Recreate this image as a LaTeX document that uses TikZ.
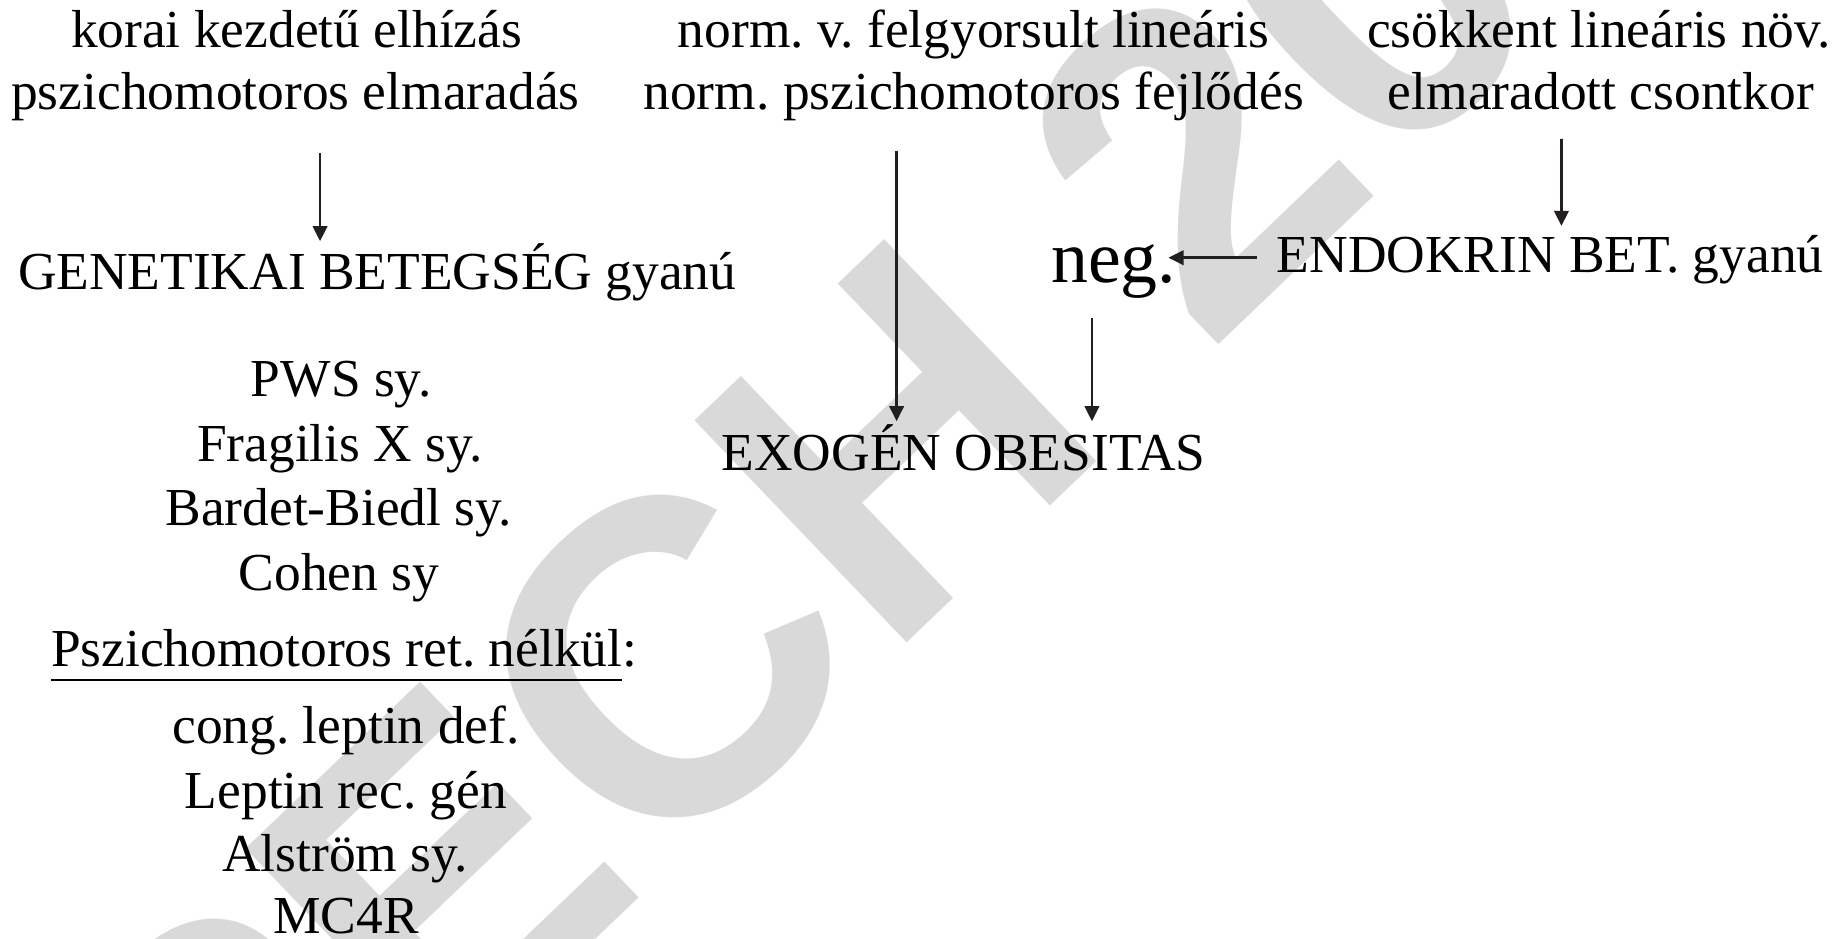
\documentclass[tikz,border=0pt]{standalone}
\usepackage{fontspec}
\setmainfont{Liberation Serif}
\newfontfamily\wmfont{Liberation Sans}
\usetikzlibrary{arrows.meta,calc}
\frenchspacing
\definecolor{ink}{HTML}{231F20}
\newcommand\myuline[1]{\setbox0\hbox{#1}\rlap{\rule[-4.4pt]{\wd0}{0.8pt}}\box0}
\begin{document}
\begin{tikzpicture}[x=0.011767cm,y=-0.011767cm,
  txt/.style={anchor=base, inner sep=0pt, font=\fontsize{15.2}{18}\selectfont\frenchspacing},
  big/.style={anchor=base, inner sep=0pt, font=\fontsize{21}{25}\selectfont},
  arr/.style={draw=ink, line width=0.75pt, -{Triangle[length=4.3pt,width=4.1pt]}},
  wm/.style={anchor=base west, inner sep=0pt, text=black!15, font=\wmfont\bfseries\fontsize{127}{130}\selectfont, rotate=43.7}]
\useasboundingbox (0,0) rectangle (1568,798);
\begin{scope}
\clip (0,0) rectangle (1568,798);
\node[wm] (wmark) at (188,1103) {PECH 20};
\end{scope}
% header
\node[txt] (k1) at (252,40) {korai kezdetű elhízás};
\node[txt] (k2) at (251,93) {pszichomotoros elmaradás};
\node[txt] (n1) at (827.5,40) {norm. v. felgyorsult lineáris};
\node[txt] (n2) at (827.5,93) {norm. pszichomotoros fejlődés};
\node[txt] (c1) at (1359,40) {csökkent lineáris növ.};
\node[txt] (c2) at (1360.5,93) {elmaradott csontkor};
% middle
\node[txt] (gen) at (320.5,246) {GENETIKAI BETEGSÉG gyanú};
\node[big] (neg) at (946.5,240) {neg.};
\node[txt] (endo) at (1317.5,232) {ENDOKRIN BET. gyanú};
\node[txt] (exo) at (819,400) {EXOGÉN OBESITAS};
% lists
\node[txt] (pws) at (290,337) {PWS sy.};
\node[txt] (frag) at (289,392) {Fragilis X sy.};
\node[txt] (bard) at (288,447) {Bardet-Biedl sy.};
\node[txt] (cohen) at (288,502) {Cohen sy};
\node[txt] (psz) at (292.5,566) {\myuline{Pszichomotoros ret. nélkül}:};
\node[txt] (cong) at (294,632) {cong. leptin def.};
\node[txt] (lep) at (294,687) {Leptin rec. gén};
\node[txt] (alst) at (293.5,741) {Alström sy.};
\node[txt] (mc4r) at (294,793) {MC4R};
% arrows
\draw[arr] ($(k2.base)+(21,37)$) -- ($(gen.base)+(-48.5,-41)$);
\draw[arr] ($(n2.base)+(-65.5,35)$) -- ($(exo.base)+(-57,-42)$);
\draw[arr] ($(c2.base)+(-33.5,25)$) -- ($(endo.base)+(9.5,-40)$);
\draw[arr] ($(neg.base)+(-18.5,30)$) -- ($(exo.base)+(109,-42)$);
\draw[arr] ($(endo.base)+(-249.5,-13)$) -- ($(neg.base)+(46.5,-21)$);
\end{tikzpicture}
\end{document}
